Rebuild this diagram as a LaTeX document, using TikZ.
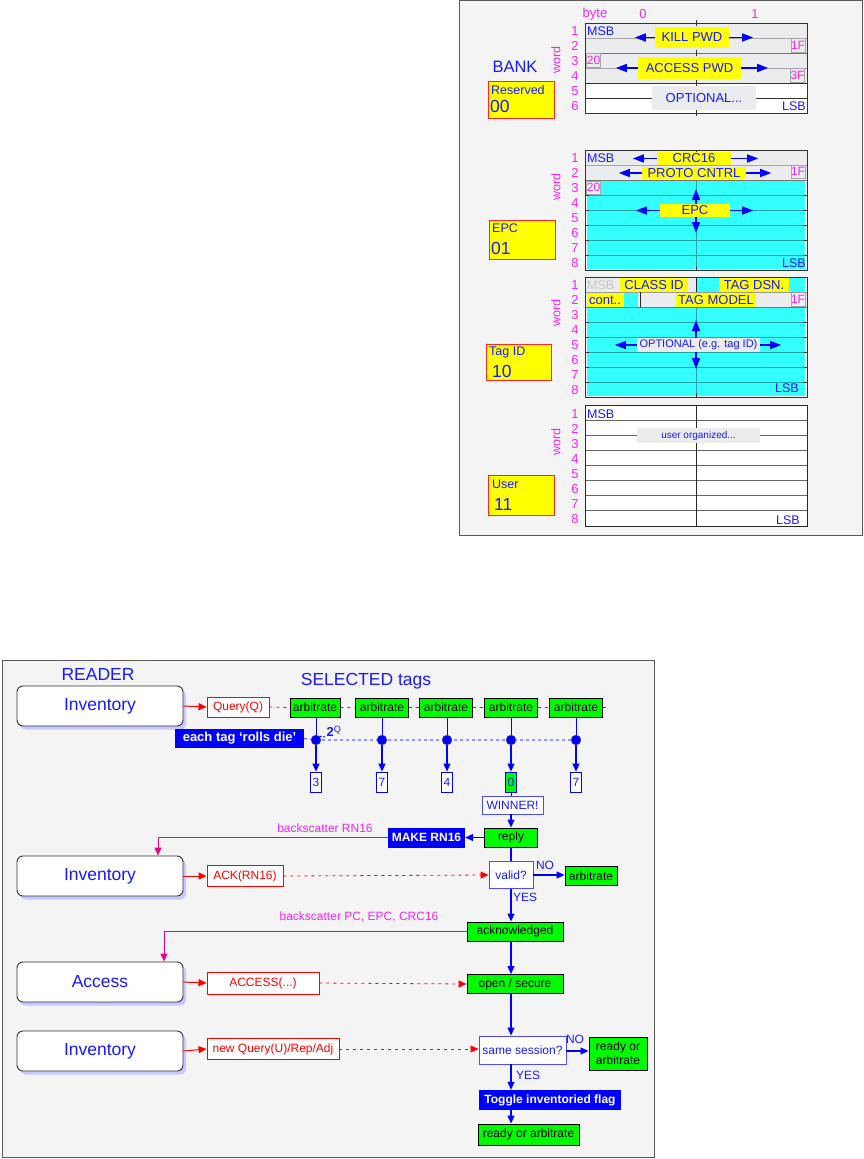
\documentclass[tikz,border=0pt]{standalone}
\usepackage{fontspec}
\setmainfont{Liberation Sans}
\usetikzlibrary{arrows.meta,shadows}
\definecolor{tblue}{RGB}{25,25,255}
\definecolor{mag}{RGB}{240,40,240}
\definecolor{panel}{RGB}{244,244,244}
\definecolor{rowgray}{RGB}{234,236,237}
\definecolor{cyanf}{RGB}{51,255,255}
\definecolor{tealx}{RGB}{30,165,165}
\definecolor{grn}{RGB}{0,250,0}
\definecolor{ylw}{RGB}{255,255,0}
\newcommand\fsz[1]{\fontsize{#1}{#1}\selectfont}
\tikzset{
 tt/.style={text=tblue, font=\fsz{12.5}, inner sep=0},
 wn/.style={text=mag, font=\fsz{13}, inner sep=0},
 wordlbl/.style={text=mag, font=\fsz{12.5}, inner sep=0, rotate=90},
 ybox/.style={fill=ylw, text=tblue, font=\fsz{13}, inner sep=0},
 gbox/.style={fill=rowgray, text=tblue, font=\fsz{13}, inner sep=0},
 hexbox/.style={draw=gray!70, fill=rowgray, text=mag, font=\fsz{12}, inner sep=0, minimum width=14pt, minimum height=14pt},
 marr/.style={draw=blue, line width=1.6, -{Triangle[length=11pt,width=8pt]}},
 bankbox/.style={fill=ylw, draw=red!85, line width=1},
 banktxt/.style={text=tblue, font=\fsz{12.5}, inner sep=0, anchor=west},
 bankno/.style={text=tblue, font=\fsz{17.5}, inner sep=0, anchor=west},
 inv/.style={rounded corners=6pt, draw=black!80, line width=0.9, fill=white, text=tblue, font=\fsz{17.5}, minimum width=166pt, minimum height=40pt, drop shadow={shadow xshift=3pt, shadow yshift=-3.5pt, fill=blue!22, opacity=1}},
 cmd/.style={draw=red, line width=0.9, fill=white, text=red, font=\fsz{12}, inner sep=0, minimum height=21pt},
 gn/.style={fill=grn, draw=black, line width=0.9, text=black, font=\fsz{12}, inner sep=0, minimum height=19pt},
 qb/.style={draw=blue!70, line width=0.9, fill=white, text=tblue, font=\fsz{12}, inner sep=0},
 bb/.style={fill=blue, text=white, font=\bfseries\fsz{12}, inner sep=0},
 numb/.style={draw=blue, line width=0.8, fill=white, text=tblue, font=\fsz{12}, inner sep=0, minimum width=11pt, minimum height=20pt},
 flow/.style={draw=blue, line width=1.2, -{Triangle[length=8pt,width=7pt]}},
 rarr/.style={draw=red, line width=1, -{Triangle[length=8pt,width=7pt]}},
 rdash/.style={draw=red, line width=0.8, dash pattern=on 3pt off 4pt},
 marrow/.style={draw=magenta, line width=1, -{Triangle[length=8pt,width=7pt]}},
 magtxt/.style={text=mag, font=\fsz{12}, inner sep=0},
 dot/.style={circle, fill=blue, draw=black!60, minimum size=10pt, inner sep=0},
}
\begin{document}
\begin{tikzpicture}[x=1pt,y=-1pt]
\path[fill=white] (0,0) rectangle (863,1159);
\useasboundingbox (0,0) rectangle (863,1159);
% panels
\draw[draw=black!65, fill=panel, line width=1] (459,0.5) rectangle (862,535);
\draw[draw=black!65, fill=panel, line width=1] (2,660) rectangle (654,1157);

% ================= MEMORY =================
\node[wn] (hbyte) at (595,14) {byte};
\node[wn] (hb0) at (643,14) {0};
\node[wn] (hb1) at (755,14) {1};
\node[text=tblue, font=\fsz{16.5}, inner sep=0] (bank) at (515,67) {BANK};

% ---- Reserved ----
\fill[rowgray] (585,23) rectangle (807,83);
\fill[white] (585,83) rectangle (807,113);
\draw[gray!70] (585,38) -- (807,38) (585,68) -- (807,68);
\draw[black!55, line width=1] (585,53) -- (807,53);
\draw[black!80] (585,83) -- (807,83) (585,98) -- (807,98);
\draw[black!80, line width=1] (585,23) rectangle (807,113);
\foreach \yy in {23,53,83,98,113} \draw[black!80] (696,\yy-3) -- (696,\yy+3);
\node[ybox, minimum width=74pt, minimum height=21pt] (kill) at (692,37.5) {KILL PWD};
\draw[marr] (kill.west) -- ++(-20,0);
\draw[marr] (kill.east) -- ++(24,0);
\node[ybox, minimum width=103pt, minimum height=22pt] (accpwd) at (689.5,68) {ACCESS PWD};
\draw[marr] (accpwd.west) -- ++(-22,0);
\draw[marr] (accpwd.east) -- ++(27,0);
\node[gbox, minimum width=104pt, minimum height=24pt] (optr) at (704,98) {OPTIONAL...};
\node[hexbox] (r1f) at (798,45.5) {1F};
\node[hexbox] (r20) at (593.5,60.5) {20};
\node[hexbox] (r3f) at (797.5,75.5) {3F};
\node[tt, anchor=west] (rmsb) at (587,31.5) {MSB};
\node[tt, anchor=east] (rlsb) at (806,106) {LSB};
\foreach \i in {1,...,6} \node[wn] (rw\i) at (575,{31+15*(\i-1)}) {\i};
\node[wordlbl] (rword) at (556,60) {word};
\node[bankbox, minimum width=66pt, minimum height=37pt] (bres) at (521,99.5) {};
\node[banktxt] (bres1) at (491,90) {Reserved};
\node[bankno] (bres2) at (490,106) {00};

% ---- EPC ----
\fill[rowgray] (585,150) rectangle (807,180);
\fill[cyanf] (587,181) rectangle (805,269);
\draw[gray!70] (585,165) -- (807,165);
\draw[black!55, line width=1] (585,180) -- (807,180);
\foreach \yy in {195,210,225,240,255} {
  \draw[tealx] (587,\yy) -- (805,\yy);
  \draw[black!80] (585,\yy) -- (589,\yy) (803,\yy) -- (807,\yy);
}
\draw[tealx] (696,181) -- (696,269);
\draw[black!80] (696,150) -- (696,153) (696,266) -- (696,270);
\draw[black!80, line width=1] (585,150) rectangle (807,270);
\node[ybox, minimum width=74pt, minimum height=13pt] (crc) at (694,158.5) {CRC16};
\draw[marr] (crc.west) -- ++(-24,0);
\draw[marr] (crc.east) -- ++(27,0);
\node[ybox, minimum width=104pt, minimum height=12pt] (proto) at (694,173) {PROTO CNTRL};
\draw[marr] (proto.west) -- ++(-23,0);
\draw[marr] (proto.east) -- ++(25,0);
\node[ybox, minimum width=70pt, minimum height=13pt] (epcf) at (695,210.5) {EPC};
\draw[marr] (epcf.west) -- ++(-24,0);
\draw[marr] (epcf.east) -- ++(23,0);
\draw[marr] (epcf.north -| 696,0) -- (696,189);
\draw[marr] (epcf.south -| 696,0) -- (696,233);
\node[hexbox, minimum height=13pt] (e1f) at (798,171.5) {1F};
\node[hexbox, minimum height=13pt] (e20) at (593.5,187.5) {20};
\node[tt, anchor=west] (emsb) at (587,158) {MSB};
\node[tt, anchor=east] (elsb) at (806,263) {LSB};
\foreach \i in {1,...,8} \node[wn] (ew\i) at (575,{158+15*(\i-1)}) {\i};
\node[wordlbl] (eword) at (556,187) {word};
\node[bankbox, minimum width=66pt, minimum height=39pt] (bepc) at (522,239.5) {};
\node[banktxt] (bepc1) at (492,228) {EPC};
\node[bankno] (bepc2) at (491,248) {01};

% ---- TID ----
\fill[rowgray] (585,277) rectangle (696,292);
\fill[cyanf] (697,278) rectangle (805,292);
\fill[rowgray] (585,292) rectangle (807,307);
\fill[cyanf] (624,293) rectangle (638,307);
\fill[cyanf] (587,308) rectangle (805,396);
\node[ybox, minimum width=68pt, minimum height=14pt] (classid) at (654,285) {CLASS ID};
\node[ybox, minimum width=70pt, minimum height=14pt] (tagdsn) at (754,285) {TAG DSN.};
\node[ybox, minimum width=36pt, minimum height=14pt] (cont) at (605,300) {cont..};
\node[ybox, minimum width=80pt, minimum height=14pt] (tagmodel) at (716,300) {TAG MODEL};
\node[hexbox] (t1f) at (798,299.5) {1F};
\draw[gray!80] (585,292) -- (807,292);
\draw[black!55, line width=1] (585,307) -- (807,307);
\draw[black!85, line width=1] (640,292) -- (640,307);
\draw[black!85] (696,277) -- (696,292);
\foreach \yy in {322,337,352,367,382} {
  \draw[tealx] (587,\yy) -- (805,\yy);
  \draw[black!80] (585,\yy) -- (589,\yy) (803,\yy) -- (807,\yy);
}
\draw[tealx] (696,308) -- (696,396);
\draw[black!80] (696,393) -- (696,397);
\draw[black!80, line width=1] (585,277) rectangle (807,397);
\node[fill=rowgray, text=tblue, font=\fsz{11}, inner sep=0, minimum width=123pt, minimum height=14pt] (optt) at (698.5,345) {OPTIONAL (e.g. tag ID)};
\draw[marr] (optt.west) -- ++(-22,0);
\draw[marr] (optt.east) -- ++(21,0);
\draw[marr] (optt.north -| 696,0) -- (696,320);
\draw[marr] (optt.south -| 696,0) -- (696,369);
\node[text=gray!45, font=\fsz{12.5}, inner sep=0, anchor=west] (tmsb) at (587,285) {MSB};
\node[tt, anchor=east] (tlsb) at (799,388) {LSB};
\foreach \i in {1,...,8} \node[wn] (tw\i) at (575,{285+15*(\i-1)}) {\i};
\node[wordlbl] (tword) at (556,313) {word};
\node[bankbox, minimum width=65pt, minimum height=36pt] (btid) at (518.5,362) {};
\node[banktxt] (btid1) at (489,352) {Tag ID};
\node[bankno] (btid2) at (492,371) {10};

% ---- User ----
\fill[white] (585,405) rectangle (807,526);
\foreach \yy in {420,435,450,465,480,495,510} \draw[black!60, line width=0.9] (585,\yy) -- (807,\yy);
\draw[black!85, line width=1] (696,405) -- (696,526);
\draw[black!85, line width=1] (585,405) rectangle (807,526);
\node[fill=rowgray, text=tblue, font=\fsz{10}, inner sep=0, minimum width=123pt, minimum height=15pt] (uorg) at (698.5,435.5) {user organized...};
\node[tt, anchor=west] (umsb) at (587,414) {MSB};
\node[tt, anchor=east] (ulsb) at (800,520) {LSB};
\foreach \i in {1,...,8} \node[wn] (uw\i) at (575,{414+15*(\i-1)}) {\i};
\node[wordlbl] (uword) at (556,442) {word};
\node[bankbox, minimum width=66pt, minimum height=40pt] (buser) at (521,495) {};
\node[banktxt] (buser1) at (492,484) {User};
\node[bankno] (buser2) at (494,504) {11};

% ================= FLOW =================
\node[text=tblue, font=\fsz{17.5}, inner sep=0] (reader) at (98,674) {READER};
\node[text=tblue, font=\fsz{17.5}, inner sep=0] (selected) at (366,681) {SELECTED tags};
\coordinate (vx) at (511,0);

\node[inv] (inv1) at (100,706) {Inventory};
\node[cmd, minimum width=62pt, minimum height=20pt] (query) at (238,707) {Query(Q)};
\draw[rarr] (inv1.east) -- (query.west);

\node[gn, minimum width=50pt] (a1) at (315,707.5) {arbitrate};
\node[gn, minimum width=53pt] (a2) at (382,707.5) {arbitrate};
\node[gn, minimum width=53pt] (a3) at (446,707.5) {arbitrate};
\node[gn, minimum width=53pt] (a4) at (511,707.5) {arbitrate};
\node[gn, minimum width=53pt] (a5) at (576,707.5) {arbitrate};
\coordinate (aend) at (607,707.5);
\draw[rdash] (query.east) -- (a1.west) (a1.east) -- (a2.west) (a2.east) -- (a3.west) (a3.east) -- (a4.west) (a4.east) -- (a5.west) (a5.east) -- (aend);

\node[bb, minimum width=129pt, minimum height=19pt, font=\bfseries\fsz{13}] (roll) at (239.5,738.5) {each tag `rolls die'};
\coordinate (c1) at (316,740);
\coordinate (c2) at (382,740);
\coordinate (c3) at (447,740);
\coordinate (c4) at (511,740);
\coordinate (c5) at (576,740);
\draw[blue!60, line width=1.2, dash pattern=on 3pt off 3pt] (roll.east) -- (c1) -- (c2) -- (c3) -- (c4) -- (c5);
\foreach \i in {1,...,5} \node[dot] (cc\i) at (c\i) {};
\draw[blue, line width=1] (a1.south -| c1) -- (cc1.north);
\draw[blue, line width=1] (a2.south) -- (cc2.north);
\draw[blue, line width=1] (a3.south -| c3) -- (cc3.north);
\draw[blue, line width=1] (a4.south) -- (cc4.north);
\draw[blue, line width=1] (a5.south) -- (cc5.north);
\node[text=tblue, font=\bfseries\fsz{13}, inner sep=0.5pt] (twoq) at (334,731) {2\textsuperscript{\normalfont Q}};
\draw[blue, line width=0.9, dash pattern=on 2pt off 1.5pt] (cc1.north east) -- (twoq.south west);

\node[numb] (n1) at (316,782) {3};
\node[numb] (n2) at (382,782) {7};
\node[numb] (n3) at (447,782) {4};
\node[numb, fill=grn] (n4) at (511,782) {0};
\node[numb] (n5) at (576,782) {7};
\foreach \i in {1,...,5} \draw[flow] (cc\i.south) -- (n\i.north);

\node[qb, minimum width=61pt, minimum height=18pt] (winner) at (512.5,805) {WINNER!};
\draw[blue, line width=1] (n4.south) -- (winner.north -| n4);
\node[gn, minimum width=53pt] (reply) at (511,837.5) {reply};
\draw[flow] (winner.south -| vx) -- (reply.north);
\node[bb, minimum width=77pt, minimum height=20pt] (make) at (426.5,837.5) {MAKE RN16};
\draw[flow] (reply.west) -- (make.east);

\node[inv] (inv2) at (100,876) {Inventory};
\coordinate (bk1) at (158,838);
\draw[marrow] (make.west) -| (bk1 |- inv2.north);
\node[magtxt] (lbl1) at (325,828) {backscatter RN16};

\node[cmd, minimum width=76pt] (ack) at (245,876) {ACK(RN16)};
\draw[rarr] (inv2.east) -- (ack.west);
\node[qb, minimum width=44pt, minimum height=27pt] (valid) at (511,875) {valid?};
\draw[rdash, -{Triangle[length=8pt,width=7pt]}] (ack.east) -- (valid.west);
\draw[blue, line width=1.2] (reply.south) -- (valid.north);
\node[gn, minimum width=52pt] (arbno) at (591,876) {arbitrate};
\draw[flow] (valid.east) -- (arbno.west |- valid.east);
\node[text=tblue, font=\fsz{12}, inner sep=0] (no1) at (545,865) {NO};
\node[text=tblue, font=\fsz{12}, inner sep=0] (yes1) at (525,897) {YES};

\node[gn, minimum width=96pt] (acked) at (515,931.5) {acknowledged};
\draw[flow] (valid.south) -- (acked.north -| vx);
\node[inv] (access) at (100,982) {Access};
\coordinate (bk2) at (164,932);
\draw[marrow] (acked.west) -| (bk2 |- access.north);
\node[magtxt] (lbl2) at (359,917) {backscatter PC, EPC, CRC16};

\node[cmd, minimum width=112pt, minimum height=22pt] (acccmd) at (263,983) {ACCESS(...)};
\draw[rarr] (access.east) -- (acccmd.west);
\node[gn, minimum width=96pt] (open) at (515,984) {open / secure};
\draw[rdash, -{Triangle[length=8pt,width=7pt]}] (acccmd.east) -- (open.west);
\draw[flow] (acked.south -| vx) -- (open.north -| vx);

\node[inv] (inv4) at (100,1051) {Inventory};
\node[cmd, minimum width=132pt] (newq) at (273,1049) {new Query(U)/Rep/Adj};
\draw[rarr] (inv4.east) -- (newq.west);
\node[qb, minimum width=87pt, minimum height=28pt] (same) at (522.5,1050) {same session?};
\draw[rdash, -{Triangle[length=8pt,width=7pt]}] (newq.east) -- (same.west |- newq.east);
\draw[flow] (open.south -| vx) -- (same.north -| vx);
\coordinate (ny) at (0,1051);
\node[gn, minimum width=58pt, minimum height=33pt, align=center, font=\fontsize{12}{14}\selectfont] (rdy1) at (618,1053.5) {ready or\\arbitrate};
\draw[flow] (same.east |- ny) -- (rdy1.west |- ny);
\node[text=tblue, font=\fsz{12}, inner sep=0] (no2) at (575,1039) {NO};
\node[text=tblue, font=\fsz{12}, inner sep=0] (yes2) at (528,1075) {YES};
\node[bb, minimum width=142pt, minimum height=20pt] (toggle) at (550,1100) {Toggle inventoried flag};
\draw[flow] (same.south -| vx) -- (toggle.north -| vx);
\node[gn, minimum width=101pt, minimum height=21pt] (rdy2) at (528.5,1134.5) {ready or arbitrate};
\draw[flow] (toggle.south -| vx) -- (rdy2.north -| vx);
\end{tikzpicture}
\end{document}
